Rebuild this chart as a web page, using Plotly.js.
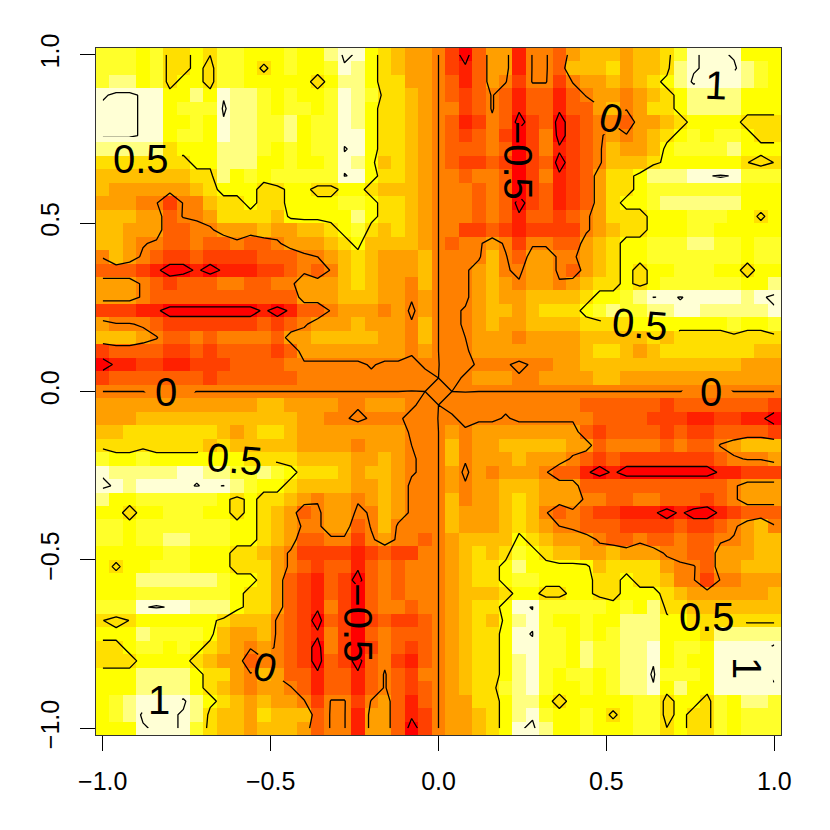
<!DOCTYPE html>
<html>
<head>
    <meta charset="UTF-8">
    <script src="https://cdn.plot.ly/plotly-3.0.1.min.js"></script>
    <style>
        body { margin: 0; padding: 0; background: white; }
    </style>
</head>
<body>
    <div id="plot"></div>
    <script>
        // heat.colors(12), one colour per band
        const heatColors = ['#FF0000', '#FF2000', '#FF4000', '#FF6000', '#FF8000', '#FF9F00',
            '#FFBF00', '#FFDF00', '#FFFF00', '#FFFF2A', '#FFFF80', '#FFFFD5'];
        const zMin = -0.69;
        const zMax = 1.11;

        // value read for each code in the rows below
        // n = orange band just under 0, z = on the zero line, t = barely over it
        // h, e = yellow-orange cell just under / just over the 0.5 contour
        // c, d = palest band over the 1 contour, d only just
        const codeValues = {
            '0': -0.63, '1': -0.45, '2': -0.33, '3': -0.18, 'n': -0.04, 'z': 0, 't': 0.002, '4': 0.02,
            '5': 0.12, '6': 0.27, '7': 0.42, 'h': 0.47, 'e': 0.505, '8': 0.57, '9': 0.72, 'a': 0.87,
            'b': 0.98, 'd': 1.005, 'c': 1.03
        };

        // y = 1.00 down to y = 0.04 in steps of 0.04, x = -1.00 to 1.00 left to right
        const upperRows = [
            '99989778e9988 8988acb87655z 203551443566 656679bccb888',
            '999897787998h 89889ba87655z 213551443666 75667abccca98',
            '9aa8978879988 88878aa87755z 313542442455 65678acccca98',
            'bccbb88a8baa9 89889ba97765z 323431331345 545678aaaa888',
            'cccbb8999caa9 89989ba87765z n23431331335 645778aaaa888',
            'cccbb8898baa9 9a899ba87765z 312n3023023n n355678888777',
            'cccbb8998baa9 9a899bb87765z 323n202n023n 5456789899877',
            'aaaaa7888aaa9 89899db87765z 333n302n123n 655689999a888',
            '777777788aaa8 89889ba86765z 32232023023n 6667888888e7e',
            '666666677a898 99999db87765z n3nn302n1235 778aaabbcb999',
            '6555555678887 788778876665z nn3n30231235 7789999999888',
            '5554424467787 788889987765z nn3n30231235 7889aaaaaa888',
            '6665534457777 688888a87765z nn3n313323n5 77788899988h8',
            '6655533nn5556 556678976765z n223212222n5 6778889988888',
            '6654n33n33n33 n55567866665z 3nn5n2nn3356 788999aa99899',
            '465n322322223 33nz56765556z nnn64355nn56 7889999999899',
            '3332100101112 23n346765556z nn564n55n356 7878899988788',
            '555n32333nn33 nn5556765546z nn5654554567 787899999988a',
            '555n333333333 335556665545z nn5655666678 89adbdbbbbabc',
            '2221100000001 0133455545n5z n45665677789 a99aabbaaaaab',
            '544n322222223 23n555655546z n45655666677 7788888889889',
            '6665433n3nnnn 355666665546z nz5554555566 6667677777777',
            '2333322323333 235555555545z nn5555555567 7656777777766',
            '0112211222333 3nnnnnn4nnn4t nn444n445566 6666666666555',
            '2333333323333 33nnnnnnnnnnz n45554455556 6555555555555'
        ].map(r => r.replace(/ /g, ''));
        const axisRow = 'zzzzzzzzzzzzzzzzzzzzzzztz4ztzzzzzzzzzzzzzzzzzzzzzzz';
        // the picture repeats turned by 180 degrees, so the lower rows are the upper ones read backwards
        const lowerRows = upperRows.slice().reverse().map(r => r.split('').reverse().join(''));
        const levelRows = upperRows.concat([axisRow], lowerRows);

        // contour labels, placed as in the picture
        const labelTexts = ['0.5', '0.5', '0.5', '0.5', '1', '1', '1', '0', '0', '0', '0', '\u22120.5', '\u22120.5'];
        const labelX = [-0.885, -0.607, 0.60, 0.80, 0.825, -0.833, 0.917, -0.8125, 0.8125, 0.515, -0.518, 0.237, -0.24];
        const labelY = [0.69, -0.20, 0.20, -0.67, 0.91, -0.917, -0.822, 0.0, 0.0, 0.812, -0.819, 0.6875, -0.688];
        const labelAngle = [0, 5, 5, 0, 3, 0, 90, 0, 0, 15, 15, 90, 90];
        // half size of the gap each label leaves in its contour
        const gapW = [0.118, 0.10, 0.10, 0.10, 0.06, 0.06, 0.06, 0.065, 0.065, 0.04, 0.04, 0.04, 0.04];
        const gapH = [0.05, 0.05, 0.05, 0.05, 0.04, 0.04, 0.075, 0.03, 0.03, 0.05, 0.05, 0.11, 0.11];

        const tickVals = [-1, -0.5, 0, 0.5, 1];
        const tickTexts = ['\u22121.0', '\u22120.5', '0.0', '0.5', '1.0'];

        const gridX = levelRows[0].split('').map((c, i) => (i - 25) * 0.04);
        const gridY = levelRows.map((r, i) => (25 - i) * 0.04);
        const z = levelRows.map(r => r.split('').map(c => codeValues[c]));

        // discrete colour bands
        const colorscale = [];
        heatColors.forEach((col, i) => {
            colorscale.push([i / 12, col]);
            colorscale.push([(i + 1) / 12, col]);
        });

        // no contour under a label, same gap as in the picture
        const contourZ = z.map(r => r.slice());
        labelX.forEach((lx, k) => {
            gridY.forEach((gy, r) => {
                gridX.forEach((gx, c) => {
                    if (Math.abs(gx - lx) < gapW[k] && Math.abs(gy - labelY[k]) < gapH[k]) contourZ[r][c] = null;
                });
            });
        });

        const heat = {
            type: 'heatmap', x: gridX, y: gridY, z: z,
            zmin: zMin, zmax: zMax, colorscale: colorscale,
            showscale: false, hoverinfo: 'skip'
        };
        const lines = {
            type: 'contour', x: gridX, y: gridY, z: contourZ,
            autocontour: false,
            contours: { start: -0.5, end: 1, size: 0.5, coloring: 'none' },
            line: { color: 'black', width: 1.3, smoothing: 0 },
            showscale: false, hoverinfo: 'skip'
        };

        const annotations = labelTexts.map((t, i) => ({
            x: labelX[i], y: labelY[i], xref: 'x', yref: 'y',
            text: t, textangle: labelAngle[i], showarrow: false,
            font: { family: 'Liberation Sans', size: 40, color: 'black' }
        }));

        const axisCommon = {
            range: [-1.02, 1.02],
            tickmode: 'array', tickvals: tickVals, ticktext: tickTexts,
            ticks: 'outside', ticklen: 15, tickcolor: 'black', tickwidth: 1,
            showgrid: false, zeroline: false, showline: true, mirror: true,
            linecolor: '#333333', linewidth: 1,
            tickfont: { family: 'Liberation Sans', size: 25, color: 'black' }
        };

        const layout = {
            width: 830, height: 830, autosize: false,
            margin: { l: 96, r: 49, t: 48, b: 95, pad: 0 },
            paper_bgcolor: 'white', plot_bgcolor: 'white',
            showlegend: false,
            xaxis: Object.assign({}, axisCommon, { ticklabelstandoff: 9 }),
            yaxis: Object.assign({}, axisCommon, { tickangle: -90, ticklabelstandoff: 11 }),
            annotations: annotations
        };

        Plotly.newPlot('plot', [heat, lines], layout, { displayModeBar: false, staticPlot: true });
    </script>
</body>
</html>
